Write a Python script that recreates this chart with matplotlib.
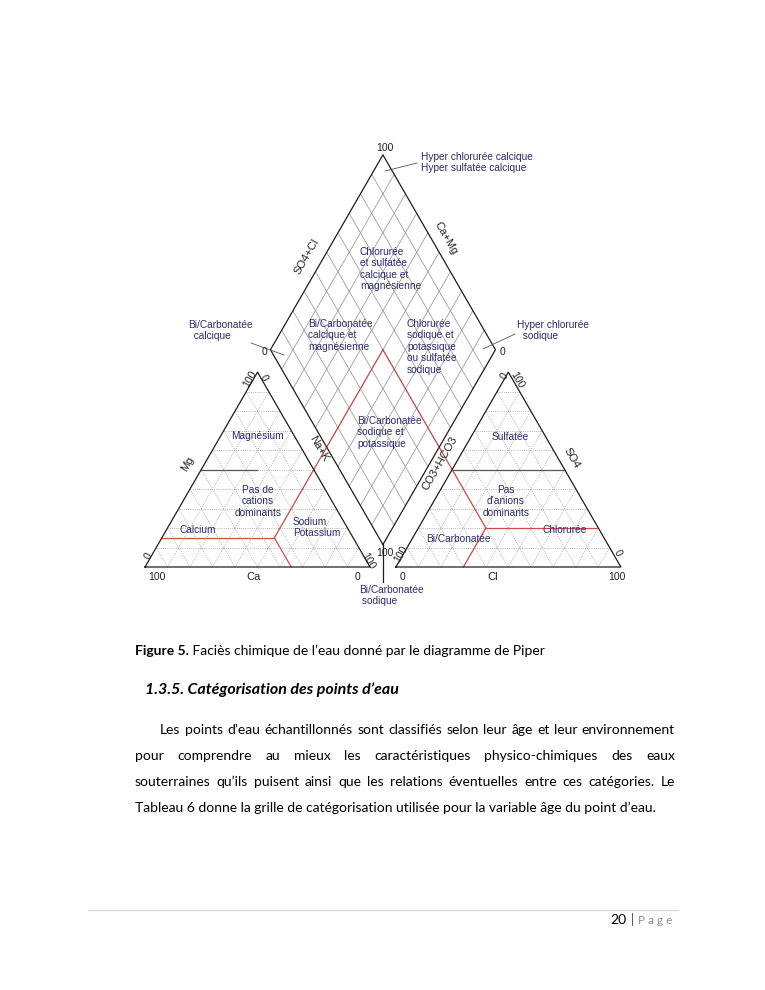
import numpy as np
import matplotlib.pyplot as plt

plt.rcParams['font.family'] = ['Liberation Sans', 'DejaVu Sans']

# ---- values (percent) ----
grid_pct = [10, 20, 30, 40, 50, 60, 70, 80, 90]
cat_mg_low = 15     # red line, cation triangle (Mg)
cat_na_mid = 50     # red line, Na+K
cat_ca_low = 35     # red line, Ca
an_so4_low = 20     # red line, anion triangle (SO4)
an_co3_mid = 50     # red line, CO3+HCO3
an_cl_low = 30      # red line, Cl
mid_pct = 50        # dark 50 % lines

cat_titles = ['Ca', 'Mg', 'Na+K']
an_titles = ['Cl', 'SO4', 'CO3+HCO3']
dia_titles = ['SO4+Cl', 'Ca+Mg']
tick_lo, tick_hi = '0', '100'

caption_bold = 'Figure 5.'
caption_text = ' Faciès chimique de l’eau donné par le diagramme de Piper'
heading = '1.3.5. Catégorisation des points d’eau'
para_lines = [
    'Les points d’eau échantillonnés sont classifiés selon leur âge et leur environnement',
    'pour comprendre au mieux les caractéristiques physico-chimiques des eaux',
    'souterraines qu’ils puisent ainsi que les relations éventuelles entre ces catégories. Le',
    'Tableau 6 donne la grille de catégorisation utilisée pour la variable âge du point d’eau.',
]
page_no = '20'

# ---- geometry (triangle side = 100 units) ----
S, G, H = 100.0, 11.5, np.sqrt(3) / 2
K, X0, Y0 = 2.25, 145.0, 567.0


def px(x, y):
    return X0 + K * np.asarray(x, float), Y0 - K * np.asarray(y, float)


def cat(na, mg):
    na, mg = np.asarray(na, float), np.asarray(mg, float)
    return px(na + mg / 2, mg * H)


def an(cl, so4):
    cl, so4 = np.asarray(cl, float), np.asarray(so4, float)
    return px(S + G + cl + so4 / 2, so4 * H)


def dia(c, a):
    c, a = np.asarray(c, float), np.asarray(a, float)
    return px(S + G / 2 + (a - c) / 2, G * H + (a + c) * H)


fig = plt.figure(figsize=(7.65, 9.9), dpi=100)
ax = fig.add_axes([0, 0, 1, 1])
ax.set_xlim(0, 765)
ax.set_ylim(990, 0)
ax.axis('off')

dot = dict(color='#9a9a9a', lw=0.6, ls=(0, (1, 1.6)))
thin = dict(color='#8c8c8c', lw=0.5)
edge = dict(color='#1e1e1e', lw=0.9)
red = dict(color='#c9514c', lw=0.9)
dark = dict(color='#555555', lw=0.9)

# grids
for p in grid_pct:
    ax.plot(*cat([0, 100 - p], [p, p]), **dot)
    ax.plot(*cat([p, p], [0, 100 - p]), **dot)
    ax.plot(*cat([100 - p, 0], [0, 100 - p]), **dot)
    ax.plot(*an([0, 100 - p], [p, p]), **dot)
    ax.plot(*an([p, p], [0, 100 - p]), **dot)
    ax.plot(*an([100 - p, 0], [0, 100 - p]), **dot)
    ax.plot(*dia([p, p], [0, 100]), **thin)
    ax.plot(*dia([0, 100], [p, p]), **thin)

# dark 50 % lines
ax.plot(*cat([0, mid_pct / 2], [mid_pct, mid_pct]), **dark)
ax.plot(*an([0, 100 - mid_pct], [mid_pct, mid_pct]), **dark)

# red facies boundaries
q = cat(cat_na_mid, cat_mg_low)
ax.plot(*cat([0, cat_na_mid], [cat_mg_low, cat_mg_low]), **red)
ax.plot(*cat([cat_na_mid, 100 - cat_ca_low], [cat_mg_low, 0]), **red)
c_mid = dia(100 - cat_na_mid, 100 - an_co3_mid)
ax.plot([q[0], c_mid[0]], [q[1], c_mid[1]], **red)
r = an(an_cl_low, an_so4_low)
ax.plot(*an([an_cl_low, 100 - an_so4_low], [an_so4_low, an_so4_low]), **red)
ax.plot(*an([an_cl_low, an_cl_low], [an_so4_low, 0]), **red)
ax.plot([r[0], c_mid[0]], [r[1], c_mid[1]], **red)

# outlines
ax.plot(*cat([0, 100, 0, 0], [0, 0, 100, 0]), **edge)
ax.plot(*an([0, 100, 0, 0], [0, 0, 100, 0]), **edge)
ax.plot(*dia([0, 100, 100, 0, 0], [0, 0, 100, 100, 0]), **edge)
bx, by = dia(0, 0)
ax.plot([bx, bx], [by, by + 37], **edge)

# ---- axis texts ----
tk = dict(fontsize=7.5, color='#222222', ha='center', va='center')
tt = dict(fontsize=8, color='#222222', ha='center', va='center')
lx0, ly0 = cat(0, 0)
lx1, _ = cat(100, 0)
ax.text(lx0 + 12, ly0 + 10, tick_hi, **tk)
ax.text((lx0 + lx1) / 2 - 4, ly0 + 10, cat_titles[0], **tt)
ax.text(lx1 - 12, ly0 + 10, tick_lo, **tk)
ax.text(lx0 + 3, ly0 - 11, tick_lo, rotation=60, **tk)
mx, my = cat(0, 50)
ax.text(mx - 14, my - 6, cat_titles[1], rotation=60, **tt)
ax_, ay_ = cat(0, 100)
ax.text(ax_ - 8, ay_ + 7, tick_hi, rotation=60, **tk)
ax.text(ax_ + 6, ay_ + 6, tick_lo, rotation=-60, **tk)
ax.text(319, 449, cat_titles[2], rotation=-60, **tt)
ax.text(lx1 - 2, ly0 - 6, tick_hi, rotation=-60, **tk)

rx0, ry0 = an(0, 0)
rx1, _ = an(100, 0)
ax.text(rx0 + 7, ry0 + 10, tick_lo, **tk)
ax.text((rx0 + rx1) / 2 - 16, ry0 + 10, an_titles[0], **tt)
ax.text(rx1 - 4, ry0 + 10, tick_hi, **tk)
ax.text(rx0 + 5, ry0 - 13, tick_hi, rotation=60, **tk)
ax.text(440, 463, an_titles[2], rotation=60, **tt)
tx, ty = an(0, 100)
ax.text(tx - 4, ty + 4, tick_lo, rotation=60, **tk)
ax.text(tx + 9, ty + 8, tick_hi, rotation=-60, **tk)
sx, sy = an(50, 50)
ax.text(sx + 7, sy - 11, an_titles[1], rotation=-60, **tt)
ax.text(rx1 - 3, ry0 - 14, tick_lo, rotation=-60, **tk)

dtx, dty = dia(100, 100)
ax.text(dtx + 2, dty - 7, tick_hi, **tk)
dlx, dly = dia(100, 0)
ax.text(dlx - 6, dly + 2, tick_lo, **tk)
drx, dry = dia(0, 100)
ax.text(drx + 7, dry + 2, tick_lo, **tk)
ax.text(bx + 2, by + 8, tick_hi, **tk)
ux, uy = dia(100, 50)
ax.text(ux - 20, uy + 4, dia_titles[0], rotation=60, **tt)
vx, vy = dia(55, 100)
ax.text(vx + 12, vy - 4, dia_titles[1], rotation=-60, **tt)

# ---- facies names ----
lab = dict(fontsize=7.3, color='#2c2d6c', linespacing=1.18)
ax.text(360, 247, 'Chlorurée\net sulfatée\ncalcique et\nmagnésienne', ha='left', va='top', **lab)
ax.text(308, 319, 'Bi/Carbonatée\ncalcique et\nmagnésienne', ha='left', va='top', **lab)
ax.text(407, 319, 'Chlorurée\nsodique et\npotassique\nou sulfatée\nsodique', ha='left', va='top', **lab)
ax.text(357, 416, 'Bi/Carbonatée\nsodique et\npotassique', ha='left', va='top', **lab)
ax.text(257, 436, 'Magnésium', ha='center', va='center', **lab)
ax.text(258, 485, 'Pas de\ncations\ndominants', ha='center', va='top', multialignment='center', **lab)
ax.text(198, 530, 'Calcium', ha='center', va='center', **lab)
ax.text(293, 517, 'Sodium\nPotassium', ha='left', va='top', **lab)
ax.text(510, 437, 'Sulfatée', ha='center', va='center', **lab)
ax.text(506, 485, 'Pas\nd’anions\ndominants', ha='center', va='top', multialignment='center', **lab)
ax.text(565, 530, 'Chlorurée', ha='center', va='center', **lab)
ax.text(458, 539, 'Bi/Carbonatée', ha='center', va='center', **lab)
ax.text(421, 152, 'Hyper chlorurée calcique\nHyper sulfatée calcique', ha='left', va='top', **lab)
ax.plot([385, 417], [171, 163], color='#555555', lw=0.6)
ax.text(188, 320, 'Bi/Carbonatée\n  calcique', ha='left', va='top', **lab)
ax.plot([251, 284], [343, 355], color='#555555', lw=0.6)
ax.text(517, 320, 'Hyper chlorurée\n  sodique', ha='left', va='top', **lab)
ax.plot([483, 515], [349, 334], color='#555555', lw=0.6)
ax.text(359, 585, 'Bi/Carbonatée\n sodique', ha='left', va='top', **lab)

# ---- page text ----
body = ['Lato', 'DejaVu Sans']
fs = 10.0
rend = fig.canvas.get_renderer()

t = ax.text(135, 651, caption_bold, fontsize=fs, fontweight='bold', family=body, ha='left', va='center')
w = t.get_window_extent(rend).width
ax.text(135 + w, 651, caption_text, fontsize=fs, family=body, ha='left', va='center')

ax.text(145, 690, heading, fontsize=11.5, fontweight='bold', fontstyle='italic', family=body,
        ha='left', va='center')


def justify(line, x0, x1, y):
    words = line.split()
    objs = [ax.text(0, y, wd, fontsize=fs, family=body, ha='left', va='center') for wd in words]
    widths = [o.get_window_extent(rend).width for o in objs]
    gap = (x1 - x0 - sum(widths)) / (len(words) - 1)
    x = x0
    for o, wd in zip(objs, widths):
        o.set_x(x)
        x += wd + gap


justify(para_lines[0], 160, 675, 730)
justify(para_lines[1], 135, 675, 756)
justify(para_lines[2], 135, 675, 782)
ax.text(135, 808, para_lines[3], fontsize=fs, family=body, ha='left', va='center')

# footer
ax.plot([88, 678], [910, 910], color='#d9d9d9', lw=0.8)
t = ax.text(672, 920, 'P a g e', fontsize=8.5, family=body, color='#8c8c8c', ha='right', va='center')
x = 672 - t.get_window_extent(rend).width - 4
t = ax.text(x, 920, '|', fontsize=9, family=body, color='#444444', ha='right', va='center')
x -= t.get_window_extent(rend).width + 4
ax.text(x, 920, page_no, fontsize=10, family=body, color='#000000', ha='right', va='center')

fig.savefig('out.png', dpi=100, facecolor='white')
